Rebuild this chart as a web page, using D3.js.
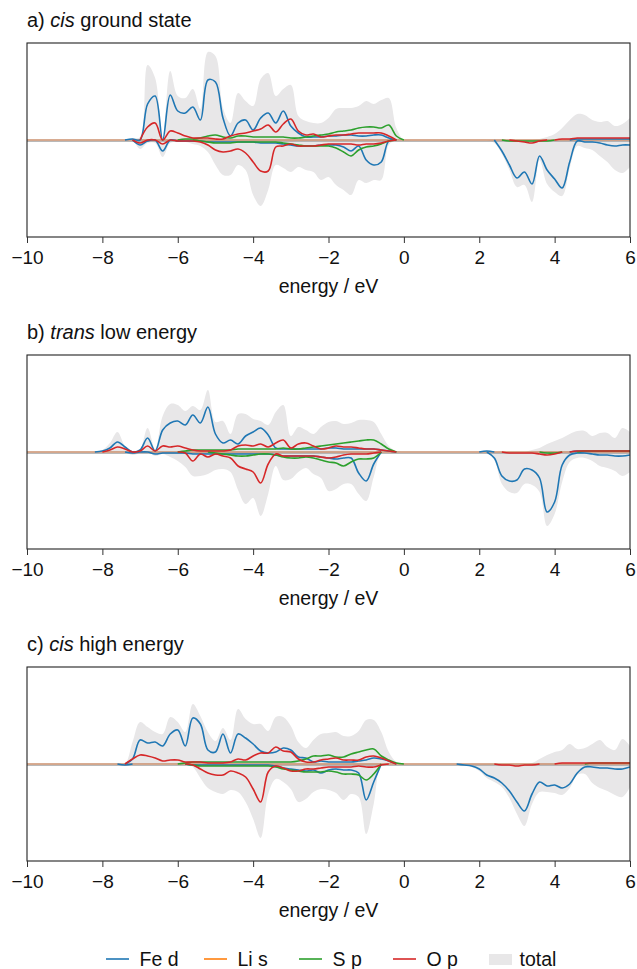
<!DOCTYPE html>
<html><head><meta charset="utf-8">
<script src="https://cdn.jsdelivr.net/npm/d3@7"></script>
<style>
body{margin:0;background:#fff;}
svg{display:block;}
text{font-family:"Liberation Sans",Arial,Helvetica,sans-serif;fill:#111;}
</style>
</head><body>
<svg id="c" width="637" height="969"></svg>
<script>
// energy grid (eV)
const energy = [-10,-8.4,-8.2,-8.0,-7.8,-7.6,-7.4,-7.2,-7.0,-6.8,-6.6,
 -6.4,-6.2,-6.0,-5.8,-5.6,-5.4,-5.2,-5.0,-4.8,-4.6,
 -4.4,-4.2,-4.0,-3.8,-3.6,-3.4,-3.2,-3.0,-2.8,-2.6,
 -2.4,-2.2,-2.0,-1.8,-1.6,-1.4,-1.2,-1.0,-0.8,-0.6,
 -0.4,-0.2,0.0,0.2,0.4,0.6,0.8,1.0,1.2,1.4,
 1.6,1.8,2.0,2.2,2.4,2.6,2.8,3.0,3.2,3.4,
 3.6,3.8,4.0,4.2,4.4,4.6,4.8,5.0,5.2,5.4,
 5.6,5.8,6.0];
const xTicks = [-10,-8,-6,-4,-2,0,2,4,6];
const seriesNames = ["Fe d","Li s","S p","O p"];
const seriesColors = ["#1f77b4","#ff7f0e","#2ca02c","#d62728"];

// Li s (practically zero in all three structures)
const liUp = [0.3,0.3,0.3,0.3,0.3,0.3,0.3,0.3,0.3,0.3,0.3, 0.3,0.3,0.3,0.3,0.3,0.3,0.3,0.3,0.3,0.3, 0.3,0.3,0.3,0.3,0.3,0.3,0.3,0.3,0.3,0.3, 0.3,0.3,0.3,0.3,0.3,0.3,0.3,0.3,0.3,0.3, 0.3,0.3,0.3,0.3,0.3,0.3,0.3,0.3,0.3,0.3, 0.3,0.3,0.3,0.3,0.3,0.3,0.3,0.3,0.3,0.3, 0.3,0.3,0.3,0.3,0.3,0.3,0.3,0.3,0.3,0.3, 0.3,0.3,0.3];
const liDn = [-0.3,-0.3,-0.3,-0.3,-0.3,-0.3,-0.3,-0.3,-0.3,-0.3,-0.3, -0.3,-0.3,-0.3,-0.3,-0.3,-0.3,-0.3,-0.3,-0.3,-0.3, -0.3,-0.3,-0.3,-0.3,-0.3,-0.3,-0.3,-0.3,-0.3,-0.3, -0.3,-0.3,-0.3,-0.3,-0.3,-0.3,-0.3,-0.3,-0.3,-0.3, -0.3,-0.3,-0.3,-0.3,-0.3,-0.3,-0.3,-0.3,-0.3,-0.3, -0.3,-0.3,-0.3,-0.3,-0.3,-0.3,-0.3,-0.3,-0.3,-0.3, -0.3,-0.3,-0.3,-0.3,-0.3,-0.3,-0.3,-0.3,-0.3,-0.3, -0.3,-0.3,-0.3];

// a) cis ground state
const feUpA = [0,0,0,0,0,0,0,1,0,36,44, 0,45,29,27,33,20,60,58,22,4, 17,20,10,22,27,17,29,14,7,3, 3,3,4,4,5,5,4,4,5,5, 2,0,0,0,0,0,0,0,0,0, 0,0,0,0,0,0,0,0,0,0, 0,0,0,0,0,1,1,1,1,1, 1,1,1];
const feDnA = [0,0,0,0,0,0,0,0,-5,-1,0, -11,0,-1,-1,-1,-1,-2,-2,-2,-2, -2,-2,-2,-3,-3,-3,-4,-5,-6,-6, -6,-5,-5,-5,-7,-11,-6,-20,-25,-22, -1,0,0,0,0,0,0,0,0,0, 0,0,0,0,0,-11,-25,-38,-32,-44, -16,-30,-39,-48,-22,-1,-2,-2,-3,-5, -6,-5,-5];
const sUpA = [0,0,0,0,0,0,0,0,0,0,0, 0,0,0,1,1,2,4,5,3,2, 4,4,3,3,3,3,3,2,2,3, 4,5,6,8,9,10,12,13,13,12, 15,4,0,0,0,0,0,0,0,0, 0,0,0,0,0,0,0,0,0,0, 0,0,0,0,0,0,0,0,0,0, 0,0,0];
const sDnA = [0,0,0,0,0,0,0,0,0,0,0, 0,0,0,0,0,-1,-2,-3,-3,-3, -2,-2,-2,-2,-2,-2,-3,-4,-5,-6, -6,-6,-6,-8,-12,-16,-10,-7,-6,-4, -1,0,0,0,0,0,0,0,0,0, 0,0,0,0,0,0,-1,-1,-1,-1, -1,-1,0,0,0,0,0,0,0,0, 0,0,0];
const oUpA = [0,0,0,0,0,0,0,0,0,13,17, 0,9,7,4,2,2,2,1,1,4, 6,7,9,11,15,8,16,21,9,5, 6,3,4,5,5,6,7,7,7,7, 4,0,0,0,0,0,0,0,0,0, 0,0,0,0,0,0,0,0,0,0, 0,0,0,1,1,2,2,2,2,2, 2,2,2];
const oDnA = [0,0,0,0,0,0,0,0,-3,0,0, -4,0,-1,-1,-1,-2,-5,-10,-12,-11, -9,-13,-22,-31,-31,-7,-6,-4,-6,-6, -6,-5,-4,-4,-4,-4,-5,-4,-4,-3, -1,0,0,0,0,0,0,0,0,0, 0,0,0,0,0,0,0,-1,-2,-3, -1,0,0,0,0,0,0,0,0,0, 0,0,0];
const totUpA = [0,0,0,0,0,0,0,2,3,75,62, 1,69,44,42,51,31,88,84,32,17, 47,39,34,61,67,44,51,55,24,19, 17,17,22,31,32,32,34,39,36,40, 42,12,0,0,0,0,0,0,0,0, 0,0,0,0,0,0,0,0,0,0, 1,3,6,12,20,26,25,20,18,19, 14,16,22];
const totDnA = [0,0,0,0,0,0,0,0,-9,-3,-3, -17,-3,-2,-2,-4,-6,-12,-25,-35,-35, -25,-30,-55,-66,-50,-25,-28,-32,-27,-30, -32,-40,-37,-45,-50,-55,-40,-43,-40,-40, -5,0,0,0,0,0,0,0,0,0, 0,0,0,0,-3,-14,-30,-47,-45,-62, -20,-44,-52,-56,-28,-6,-8,-10,-16,-22, -30,-33,-27];

// b) trans low energy
const feUpB = [0,0,0,1,4,10,5,0,2,14,1, 22,29,31,27,37,29,45,18,9,12, 8,16,20,24,17,4,3,3,3,3, 3,3,4,4,3,3,3,3,3,2, 1,0,0,0,0,0,0,0,0,0, 0,0,0,1,0,0,0,0,0,0, 0,0,0,0,0,1,1,1,1,1, 1,1,1];
const feDnB = [0,0,0,0,0,0,0,-1,0,0,-2, -1,-1,-1,-1,-2,-2,-2,-2,-2,-2, -2,-2,-2,-2,-2,-3,-4,-4,-4,-4, -4,-5,-6,-7,-6,-6,-21,-29,-12,0, 0,0,0,0,0,0,0,0,0,0, 0,0,0,0,-6,-24,-29,-28,-17,-18, -26,-60,-50,-13,-3,-1,-1,-2,-3,-3, -4,-4,-3];
const sUpB = [0,0,0,0,0,0,0,0,0,0,0, 0,0,0,1,2,2,2,2,2,2, 3,3,3,3,3,3,4,3,3,4, 5,6,7,8,9,10,11,12,12,8, 3,0,0,0,0,0,0,0,0,0, 0,0,0,0,0,0,0,0,0,0, 0,0,0,0,0,0,1,1,1,1, 1,1,1];
const sDnB = [0,0,0,0,0,0,0,0,0,0,0, 0,0,0,0,0,0,0,-1,-2,-3, -4,-4,-3,-2,-2,-3,-5,-6,-6,-5, -6,-8,-10,-11,-14,-10,-7,-7,-6,0, 0,0,0,0,0,0,0,0,0,0, 0,0,0,0,0,0,0,0,0,0, 0,-1,-1,0,0,0,0,0,0,0, 0,0,0];
const oUpB = [0,0,0,0,2,5,3,0,1,6,1, 6,5,6,4,2,1,1,1,1,2, 6,7,6,8,5,9,12,4,8,9, 6,3,4,6,5,5,4,3,3,2, 1,0,0,0,0,0,0,0,0,0, 0,0,0,0,0,0,0,0,0,0, 0,0,0,0,0,1,1,1,1,1, 1,1,1];
const oDnB = [0,0,0,0,0,0,0,0,0,0,0, 0,0,0,-1,-9,-2,-5,-2,-4,-6, -14,-17,-20,-31,-12,-2,-4,-4,-4,-4, -4,-5,-6,-5,-3,-2,-2,-2,-1,0, 0,0,0,0,0,0,0,0,0,0, 0,0,0,0,0,0,-1,-1,-1,-1, -2,-3,-2,0,0,0,0,0,0,0, 0,0,0];
const totUpB = [0,0,0,2,9,20,6,1,3,24,3, 36,48,47,41,46,42,62,30,31,18, 38,38,33,31,27,40,47,16,25,22, 18,25,30,31,28,29,32,32,30,18, 6,1,0,0,0,0,0,0,0,0, 0,0,0,0,0,0,0,0,0,2, 4,8,11,14,18,21,21,16,19,19, 14,24,20];
const totDnB = [0,0,0,0,0,0,0,-3,-1,0,-4, -2,-5,-9,-15,-24,-24,-22,-18,-17,-20, -38,-52,-46,-64,-42,-14,-28,-27,-20,-16, -22,-26,-39,-37,-32,-32,-42,-49,-25,-1, 0,0,0,0,0,0,0,0,0,0, 0,0,0,0,-8,-32,-40,-41,-32,-33, -40,-74,-62,-30,-10,-6,-6,-9,-14,-16, -19,-24,-20];

// c) cis high energy
const feUpC = [0,0,0,0,0,0,0,5,24,21,22, 18,30,34,18,46,40,14,12,30,11, 30,26,20,13,11,12,16,14,7,6, 2,3,2,2,2,2,3,4,6,5, 3,0,0,0,0,0,0,0,0,0, 0,0,0,0,0,0,0,0,0,0, 0,0,0,0,0,0,0,0,0,0, 0,0,0];
const feDnC = [0,0,0,0,0,0,-1,0,0,0,0, 0,0,0,0,-1,-1,-1,-1,-1,-1, -1,-1,-1,-1,-1,-2,-4,-5,-6,-7, -6,-9,-6,-5,-6,-6,-9,-36,-18,0, 0,0,0,0,0,0,0,0,0,0, -1,-2,-5,-11,-14,-19,-27,-38,-47,-30, -18,-22,-21,-24,-20,-9,-3,-3,-4,-4, -5,-5,-3];
const sUpC = [0,0,0,0,0,0,0,0,0,0,0, 0,0,0,1,2,2,2,2,2,2, 2,2,2,2,2,2,2,2,3,5, 8,8,9,7,7,10,12,14,15,8, 4,1,0,0,0,0,0,0,0,0, 0,0,0,0,0,0,0,0,0,0, 0,0,0,0,0,0,0,1,1,1, 1,1,1];
const sDnC = [0,0,0,0,0,0,0,0,0,0,0, 0,0,0,0,-1,-2,-2,-2,-2,-2, -2,-2,-2,-2,-2,-3,-5,-6,-7,-8, -8,-8,-7,-8,-10,-10,-11,-16,-10,0, 0,0,0,0,0,0,0,0,0,0, 0,0,0,0,0,0,0,0,0,0, 0,0,0,0,0,0,0,0,0,0, 0,0,0];
const oUpC = [0,0,0,0,0,0,0,5,9,8,6, 3,4,4,2,2,2,1,1,1,2, 5,4,8,11,11,17,13,12,5,2, 2,4,5,6,4,4,4,7,8,6, 3,0,0,0,0,0,0,0,0,0, 0,0,0,0,0,0,0,0,0,0, 0,0,0,1,1,1,1,1,1,1, 1,1,1];
const oDnC = [0,0,0,0,0,0,0,0,0,0,0, 0,0,0,0,-1,-5,-9,-11,-11,-7, -9,-13,-25,-38,-8,-2,-4,-7,-7,-5, -5,-4,-3,-3,-3,-3,-2,-3,-3,-1, 0,0,0,0,0,0,0,0,0,0, 0,0,0,0,0,-1,-1,-2,-1,-1, 0,0,0,0,0,0,0,0,0,0, 0,0,0];
const totUpC = [0,0,0,0,0,0,0,22,42,37,32, 30,47,42,32,60,48,32,23,36,24, 55,45,40,40,33,47,47,38,22,16, 24,30,31,32,28,28,33,44,44,32, 12,2,0,0,0,0,0,0,0,0, 0,0,0,0,0,0,0,0,0,1, 5,9,12,14,20,15,16,20,24,17, 14,25,18];
const totDnC = [0,0,0,0,0,0,-1,0,0,0,0, 0,0,0,0,-3,-14,-24,-28,-30,-26, -28,-38,-55,-74,-30,-15,-18,-25,-38,-35, -28,-25,-26,-29,-36,-30,-33,-70,-40,-1, 0,0,0,0,0,0,0,0,0,0, -1,-3,-7,-14,-18,-23,-34,-50,-62,-40, -28,-28,-29,-31,-24,-11,-10,-19,-24,-27, -31,-33,-23];

const panels = [
  {pre:"a) ", it:"cis", post:" ground state",
   up:[feUpA,liUp,sUpA,oUpA], dn:[feDnA,liDn,sDnA,oDnA], totUp:totUpA, totDn:totDnA},
  {pre:"b) ", it:"trans", post:" low energy",
   up:[feUpB,liUp,sUpB,oUpB], dn:[feDnB,liDn,sDnB,oDnB], totUp:totUpB, totDn:totDnB},
  {pre:"c) ", it:"cis", post:" high energy",
   up:[feUpC,liUp,sUpC,oUpC], dn:[feDnC,liDn,sDnC,oDnC], totUp:totUpC, totDn:totDnC}
];

const svg = d3.select("#c");
const x = d3.scaleLinear().domain([-10,6]).range([27,630]);
const curve = d3.curveCatmullRom.alpha(0.5);
const H = 194;

panels.forEach((p,i)=>{
  const top = 43 + i*312;
  const y = d3.scaleLinear().domain([-97,97]).range([top+H, top]);
  const g = svg.append("g");
  const cid = "clip"+i;
  svg.append("clipPath").attr("id",cid).append("rect")
    .attr("x",x(-10)).attr("y",top).attr("width",x(6)-x(-10)).attr("height",H);
  const pg = g.append("g").attr("clip-path",`url(#${cid})`);

  const area = d3.area().curve(curve)
    .x((d,j)=>x(energy[j])).y0((d,j)=>y(p.totDn[j])).y1((d,j)=>y(p.totUp[j]));
  pg.append("path").datum(energy).attr("d",area).attr("fill","#e8e7e8");

  // thin grey baseline of the total
  pg.append("line").attr("x1",x(-10)).attr("x2",x(6))
    .attr("y1",y(0)+1.3).attr("y2",y(0)+1.3).attr("stroke","#a8a8a8").attr("stroke-width",1);

  const line = arr => d3.line().curve(curve)
    .defined((d,j)=> d!==0 || (arr[j-1]||0)!==0 || (arr[j+1]||0)!==0)
    .x((d,j)=>x(energy[j])).y(d=>y(d))(arr);
  // Li s first (thin baseline), then Fe d, S p, O p
  [1,0,2,3].forEach(k=>{
    [p.up[k], p.dn[k]].forEach(arr=>{
      pg.append("path").attr("d",line(arr)).attr("fill","none")
        .attr("stroke", k===1 ? "#c7865f" : seriesColors[k]).attr("stroke-width",k===1?1.1:1.6)
        .attr("stroke-linejoin","round").attr("opacity", k===1?0.8:1);
    });
  });

  // frame
  g.append("rect").attr("x",x(-10)).attr("y",top).attr("width",x(6)-x(-10)).attr("height",H)
    .attr("fill","none").attr("stroke","#222").attr("stroke-width",1.1);

  // x axis
  const ax = d3.axisBottom(x).tickValues(xTicks).tickSize(6).tickPadding(8)
    .tickFormat(d=> d<0 ? "\u2212"+Math.abs(d) : String(d));
  const axg = g.append("g").attr("transform",`translate(0,${top+H})`).call(ax);
  axg.select(".domain").remove();
  axg.selectAll(".tick line").attr("stroke","#333");
  axg.selectAll(".tick text").attr("font-size",19).attr("font-family",null).attr("fill","#111");

  g.append("text").attr("x",(x(-10)+x(6))/2).attr("y",top+H+56)
    .attr("text-anchor","middle").attr("font-size",19.5).text("energy / eV");

  const t = g.append("text").attr("x",x(-10)).attr("y",top-16.5).attr("font-size",20);
  t.append("tspan").text(p.pre);
  t.append("tspan").attr("font-style","italic").text(p.it);
  t.append("tspan").text(p.post);
});

// legend
const lg = svg.append("g");
const legX = [106,204,299,393];
seriesNames.forEach((n,k)=>{
  lg.append("line").attr("x1",legX[k]).attr("x2",legX[k]+23).attr("y1",959).attr("y2",959)
    .attr("stroke",seriesColors[k]).attr("stroke-width",1.6);
  lg.append("text").attr("x",legX[k]+33.5).attr("y",966).attr("font-size",19.5).text(n);
});
lg.append("rect").attr("x",489).attr("y",954).attr("width",23).attr("height",11).attr("fill","#e8e7e8");
lg.append("text").attr("x",519.5).attr("y",966).attr("font-size",19.5).text("total");
</script>
</body></html>
